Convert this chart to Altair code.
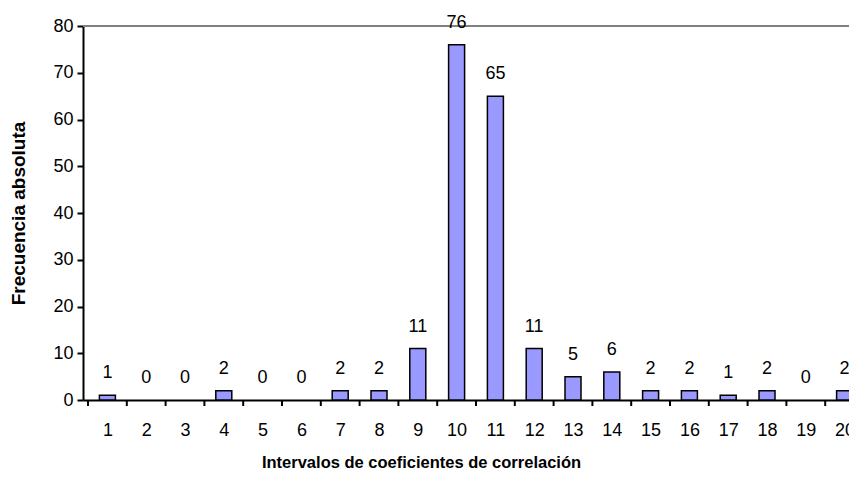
import altair as alt
import pandas as pd

categories = list(range(1, 21))
values = [1, 0, 0, 2, 0, 0, 2, 2, 11, 76, 65, 11, 5, 6, 2, 2, 1, 2, 0, 2]
y_ticks = [0, 10, 20, 30, 40, 50, 60, 70, 80]
edges = [c - 0.5 for c in categories] + [20.5]

df = pd.DataFrame({"cat": categories, "val": values})
edge_df = pd.DataFrame({"e": edges})

FONT = "Liberation Sans"
xscale = alt.Scale(domain=[0.5, 20.5], range=[0, 786], nice=False, zero=False)
yscale = alt.Scale(domain=[0, 80], nice=False)

x_axis = alt.Axis(
    values=categories, ticks=False, grid=False, domain=True,
    domainColor="black", domainWidth=2,
    labelFont=FONT, labelFontSize=18, labelColor="black",
    labelBaseline="middle", labelPadding=30, labelFlush=False, labelOverlap=False,
    title="Intervalos de coeficientes de correlación",
    titleFont=FONT, titleFontSize=16.5, titleFontWeight="bold", titleColor="black",
    titleX=338, titleY=62, titleAlign="center", titleBaseline="middle", titleAnchor="start",
)
y_axis = alt.Axis(
    values=y_ticks, grid=False, domain=True,
    domainColor="black", domainWidth=2,
    ticks=True, tickSize=6, tickColor="black", tickWidth=2,
    labelFont=FONT, labelFontSize=18, labelColor="black", labelPadding=4,
    title="Frecuencia absoluta",
    titleFont=FONT, titleFontSize=19, titleFontWeight="bold", titleColor="black",
    titleX=-65, titleY=187, titleAngle=270, titleAlign="center", titleBaseline="middle",
)

bars = alt.Chart(df).transform_filter("datum.val > 0").mark_bar(
    size=16, color="#9999FF", stroke="black", strokeWidth=1.5
).encode(
    x=alt.X("cat:Q", scale=xscale, axis=x_axis),
    y=alt.Y("val:Q", scale=yscale, axis=y_axis),
)

labels = alt.Chart(df).mark_text(font=FONT, fontSize=18, color="black", baseline="alphabetic", dy=-17).encode(
    x=alt.X("cat:Q", scale=xscale),
    y=alt.Y("val:Q", scale=yscale),
    text="val:Q",
)

ticks = alt.Chart(edge_df).mark_rule(color="black", strokeWidth=2).encode(
    x=alt.X("e:Q", scale=xscale),
    y=alt.value(374), y2=alt.value(380),
)

top_line = alt.Chart(edge_df).mark_rule(color="#808080", strokeWidth=1.5).encode(
    y=alt.datum(80, scale=yscale), x=alt.value(0), x2=alt.value(786),
)

chart = alt.layer(top_line, bars, ticks, labels).properties(
    width=766, height=374,
    autosize=alt.AutoSizeParams(type="none"),
    padding={"left": 75, "top": 18, "right": 0, "bottom": 71},
).configure_view(stroke=None)

chart.save("out.html", embed_options={"renderer": "svg", "actions": False})
